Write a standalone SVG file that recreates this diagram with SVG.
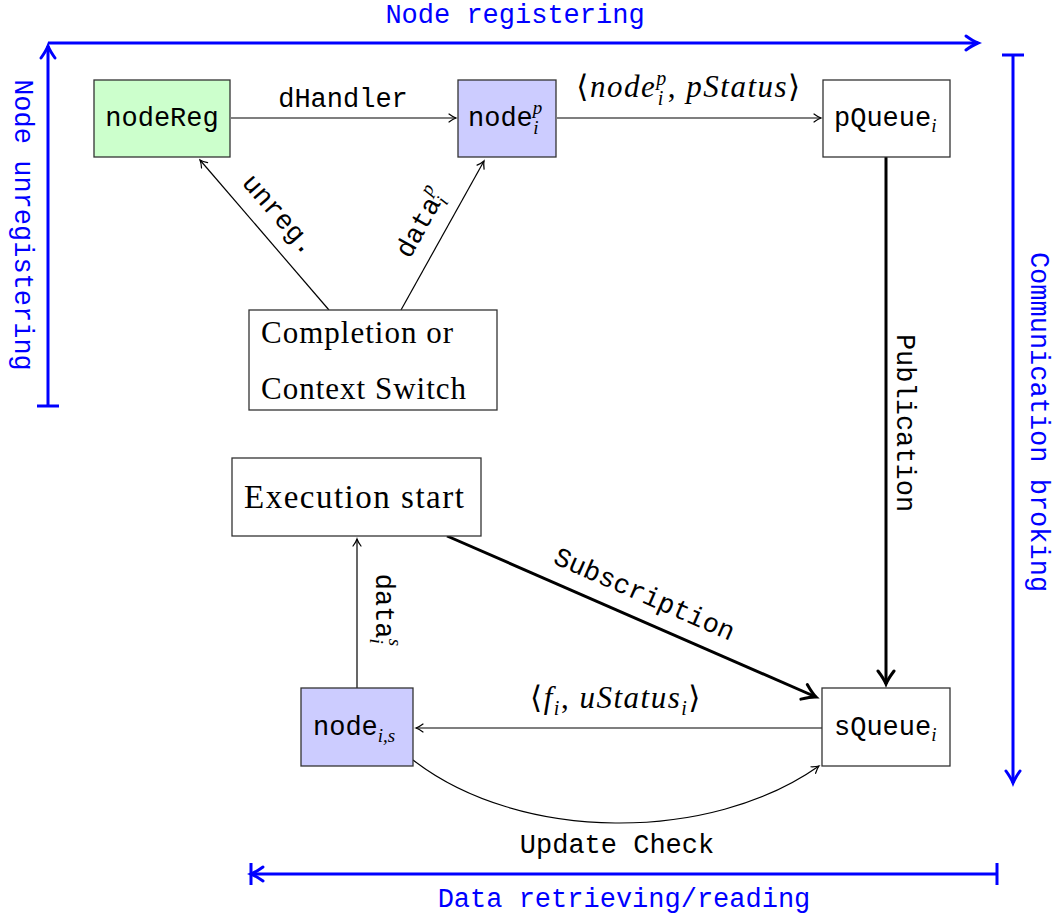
<svg xmlns="http://www.w3.org/2000/svg" width="1053" height="917" viewBox="0 0 1053 917">
<style>
.mono{font-family:"Liberation Mono","DejaVu Sans Mono",monospace;font-size:27px;fill:#000}
.blue{fill:#0000ff}
.math{font-family:"Liberation Serif","DejaVu Serif",serif;font-size:31px;letter-spacing:1.5px;fill:#000}
.it{font-style:italic}
.rm{font-family:"Liberation Serif","DejaVu Serif",serif;fill:#000}
.sub{font-family:"Liberation Serif","DejaVu Serif",serif;font-style:italic;font-size:19px}
.box{stroke:#333;stroke-width:1.3}
.thin{fill:none;stroke:#000;stroke-width:1.2}
.thick{fill:none;stroke:#000;stroke-width:3}
.bl{fill:none;stroke:#0000ff;stroke-width:3}
</style>
<defs>
<marker id="ah" viewBox="-10 -7 12 14" refX="0" refY="0" markerWidth="12" markerHeight="14" markerUnits="userSpaceOnUse" orient="auto">
<path d="M-7,-4 Q-3,-1 0,0 Q-3,1 -7,4" fill="none" stroke="#000" stroke-width="1.2" stroke-linecap="round"/>
</marker>
<marker id="ahT" viewBox="-18 -12 22 24" refX="0" refY="0" markerWidth="22" markerHeight="24" markerUnits="userSpaceOnUse" orient="auto">
<path d="M-13,-8 Q-5,-2 0,0 Q-5,2 -13,8" fill="none" stroke="#000" stroke-width="3" stroke-linecap="round"/>
</marker>
<marker id="ahB" viewBox="-18 -12 22 24" refX="0" refY="0" markerWidth="22" markerHeight="24" markerUnits="userSpaceOnUse" orient="auto">
<path d="M-12,-7 Q-5,-2 0,0 Q-5,2 -12,7" fill="none" stroke="#0000ff" stroke-width="3" stroke-linecap="round"/>
</marker>
<marker id="barB" viewBox="-4 -13 8 26" refX="0" refY="0" markerWidth="8" markerHeight="26" markerUnits="userSpaceOnUse" orient="auto">
<path d="M0,-11 V11" stroke="#0000ff" stroke-width="3"/>
</marker>
<marker id="arrbarB" viewBox="-18 -13 22 26" refX="0" refY="0" markerWidth="22" markerHeight="26" markerUnits="userSpaceOnUse" orient="auto">
<path d="M-12,-7 Q-5,-2 0,0 Q-5,2 -12,7" fill="none" stroke="#0000ff" stroke-width="3" stroke-linecap="round"/>
<path d="M0,-11 V11" stroke="#0000ff" stroke-width="3"/>
</marker>
</defs>

<g id="phases">
<path class="bl" d="M48,43 H978" marker-end="url(#ahB)"/>
<path class="bl" d="M48,406 V46" marker-start="url(#barB)" marker-end="url(#ahB)"/>
<path class="bl" d="M1013,55 V783" marker-start="url(#barB)" marker-end="url(#ahB)"/>
<path class="bl" d="M997,874 H251" marker-start="url(#barB)" marker-end="url(#arrbarB)"/>
<text class="mono blue" x="515" y="23" text-anchor="middle">Node registering</text>
<text class="mono blue" transform="translate(15,225) rotate(90)" text-anchor="middle">Node unregistering</text>
<text class="mono blue" transform="translate(1031,422) rotate(90)" text-anchor="middle">Communication broking</text>
<text class="mono blue" x="624" y="907" text-anchor="middle">Data retrieving/reading</text>
</g>

<g id="connectors">
<path class="thin" d="M231,118 H456" marker-end="url(#ah)"/>
<text class="mono" x="343" y="107" text-anchor="middle">dHandler</text>

<path class="thin" d="M557,118 H821" marker-end="url(#ah)"/>
<text class="math" x="689" y="97" text-anchor="middle">⟨<tspan class="it">node</tspan><tspan class="it" font-size="20" dy="-12">p</tspan><tspan class="it" font-size="20" dx="-10" dy="20">i</tspan><tspan dx="3" dy="-8">, </tspan><tspan class="it">pStatus</tspan>⟩</text>

<path class="thin" d="M329,310 L200,160" marker-end="url(#ah)"/>
<text class="mono" transform="translate(273,220) rotate(48.9)" text-anchor="middle">unreg.</text>

<path class="thin" d="M401,310 L484,161" marker-end="url(#ah)"/>
<text class="mono" transform="translate(428,227) rotate(-60.9)" text-anchor="middle">data<tspan class="sub" dy="6">i</tspan><tspan class="sub" dx="-5" dy="-19">p</tspan></text>

<path class="thick" d="M886,157 V684" marker-end="url(#ahT)"/>
<text class="mono" transform="translate(897,423) rotate(90)" text-anchor="middle">Publication</text>

<path class="thick" d="M447,536 L816,697" marker-end="url(#ahT)"/>
<text class="mono" transform="translate(641,602) rotate(23.6)" text-anchor="middle">Subscription</text>

<path class="thin" d="M357,688 V539" marker-end="url(#ah)"/>
<text class="mono" transform="translate(376,610) rotate(90)" text-anchor="middle">data<tspan class="sub" dy="6">i</tspan><tspan class="sub" dx="-5" dy="-19">s</tspan></text>

<path class="thin" d="M822,728 H416" marker-end="url(#ah)"/>
<text class="math" x="616" y="708" text-anchor="middle">⟨<tspan class="it">f</tspan><tspan class="it" font-size="20" dy="7">i</tspan><tspan dy="-7">, </tspan><tspan class="it">uStatus</tspan><tspan class="it" font-size="20" dy="7">i</tspan><tspan dy="-7">⟩</tspan></text>

<path class="thin" d="M413,760 C520,843 710,843 819,766" marker-end="url(#ah)"/>
<text class="mono" x="617" y="853" text-anchor="middle">Update Check</text>
</g>

<g id="nodeReg">
<rect class="box" x="94" y="80" width="136" height="77" fill="#ccffcc"/>
<text class="mono" x="162" y="126" text-anchor="middle">nodeReg</text>
</g>
<g id="node_ip">
<rect class="box" x="458" y="80" width="98" height="77" fill="#ccccff"/>
<text class="mono" x="468" y="126">node<tspan class="sub" dy="-12">p</tspan><tspan class="sub" dx="-9" dy="20">i</tspan></text>
</g>
<g id="pQueue">
<rect class="box" x="823" y="80" width="127" height="77" fill="#fff"/>
<text class="mono" x="834" y="126">pQueue<tspan class="sub" dy="6">i</tspan></text>
</g>
<g id="completion">
<rect class="box" x="249" y="310" width="248" height="100" fill="#fff"/>
<text class="rm" x="261" y="343" font-size="31" letter-spacing="1">Completion or</text>
<text class="rm" x="261" y="399" font-size="31" letter-spacing="1">Context Switch</text>
</g>
<g id="execStart">
<rect class="box" x="232" y="458" width="249" height="78" fill="#fff"/>
<text class="rm" x="244" y="508" font-size="33" letter-spacing="1.5">Execution start</text>
</g>
<g id="node_is">
<rect class="box" x="301" y="688" width="112" height="78" fill="#ccccff"/>
<text class="mono" x="313" y="735">node<tspan class="sub" dy="7">i,s</tspan></text>
</g>
<g id="sQueue">
<rect class="box" x="822" y="688" width="128" height="78" fill="#fff"/>
<text class="mono" x="834" y="735">sQueue<tspan class="sub" dy="6">i</tspan></text>
</g>
</svg>
